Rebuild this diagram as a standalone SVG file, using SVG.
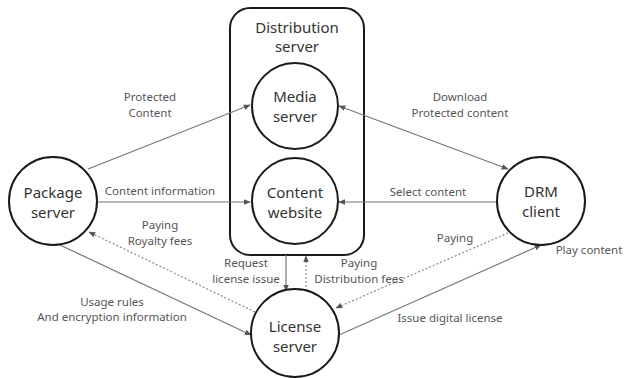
<svg xmlns="http://www.w3.org/2000/svg" width="626" height="378" viewBox="0 0 626 378">
<style>
.node{fill:#fff;stroke:#1a1a1a;stroke-width:2}
.big{font-family:"Noto Sans","Open Sans",sans-serif;font-size:15px;fill:#333;text-anchor:middle}
.lbl{font-family:"Noto Sans","Open Sans",sans-serif;font-size:11.5px;fill:#555;text-anchor:middle}
.c{stroke:#777;stroke-width:1.2;fill:none}
.d{stroke:#888;stroke-width:1.2;fill:none;stroke-dasharray:2 2}
</style>
<defs>
<marker id="ah" viewBox="0 0 10 10" refX="9" refY="5" markerWidth="7" markerHeight="7" orient="auto-start-reverse" markerUnits="userSpaceOnUse">
<path d="M0,1 L10,5 L0,9 z" fill="#555"/>
</marker>
</defs>
<rect width="626" height="378" fill="#fff"/>
<g id="distribution-server">
<rect x="230" y="8" width="134" height="247" rx="20" ry="20" fill="none" stroke="#1a1a1a" stroke-width="2"/>
<text class="big" x="297" y="33">Distribution</text>
<text class="big" x="297" y="52">server</text>
</g>
<g id="connectors">
<line class="c" x1="88" y1="169" x2="250" y2="105" marker-end="url(#ah)"/>
<line class="c" x1="98" y1="202" x2="250" y2="202" marker-end="url(#ah)"/>
<line class="c" x1="339" y1="106" x2="508" y2="169" marker-start="url(#ah)" marker-end="url(#ah)"/>
<line class="c" x1="497" y1="202" x2="339" y2="202" marker-end="url(#ah)"/>
<line class="d" x1="508" y1="233" x2="336" y2="308" marker-end="url(#ah)"/>
<line class="c" x1="339" y1="335" x2="541" y2="245" marker-end="url(#ah)"/>
<line class="d" x1="255" y1="312" x2="89" y2="232" marker-end="url(#ah)"/>
<line class="c" x1="60" y1="245" x2="251" y2="335" marker-end="url(#ah)"/>
<line class="c" x1="286" y1="255" x2="286" y2="291" marker-end="url(#ah)"/>
<line class="d" x1="306" y1="291" x2="306" y2="256" marker-end="url(#ah)"/>
</g>
<g id="media-server">
<circle class="node" cx="295" cy="106" r="43"/>
<text class="big" x="295" y="102">Media</text>
<text class="big" x="295" y="122">server</text>
</g>
<g id="content-website">
<circle class="node" cx="295" cy="201" r="43"/>
<text class="big" x="295" y="198">Content</text>
<text class="big" x="295" y="218">website</text>
</g>
<g id="package-server">
<circle class="node" cx="53" cy="201" r="44"/>
<text class="big" x="53" y="198">Package</text>
<text class="big" x="53" y="218">server</text>
</g>
<g id="drm-client">
<circle class="node" cx="541" cy="201" r="44"/>
<text class="big" x="541" y="197">DRM</text>
<text class="big" x="541" y="217">client</text>
</g>
<g id="license-server">
<circle class="node" cx="295" cy="333" r="44"/>
<text class="big" x="295" y="332">License</text>
<text class="big" x="295" y="352">server</text>
</g>
<g id="labels">
<text class="lbl" x="150" y="101">Protected</text>
<text class="lbl" x="150" y="117">Content</text>
<text class="lbl" x="160" y="195">Content information</text>
<text class="lbl" x="160" y="229">Paying</text>
<text class="lbl" x="160" y="245">Royalty fees</text>
<text class="lbl" x="112" y="306">Usage rules</text>
<text class="lbl" x="112" y="321">And encryption information</text>
<text class="lbl" x="246" y="267">Request</text>
<text class="lbl" x="246" y="283">license issue</text>
<text class="lbl" x="359" y="267">Paying</text>
<text class="lbl" x="359" y="283">Distribution fees</text>
<text class="lbl" x="460" y="101">Download</text>
<text class="lbl" x="460" y="117">Protected content</text>
<text class="lbl" x="428" y="196">Select content</text>
<text class="lbl" x="455" y="242">Paying</text>
<text class="lbl" x="589" y="254">Play content</text>
<text class="lbl" x="450" y="322">Issue digital license</text>
</g>
</svg>
